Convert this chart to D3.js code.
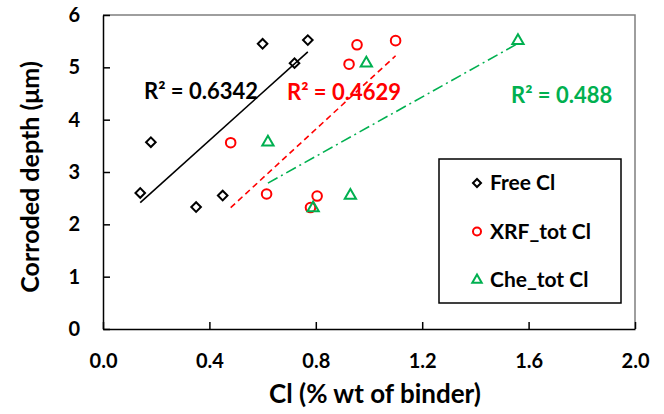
<!DOCTYPE html>
<meta charset="utf-8">
<style>
body{
  margin: 0;
  background: #fff;
}
svg{
  font-family: Lato, "Open Sans", sans-serif;
  font-weight: bold;
}
.axis path, .axis line{
  stroke: #000;
  stroke-width: 1.5px;
}
.axis text{
  font-size: 20px;
  font-family: Lato, sans-serif;
  font-weight: bold;
  fill: #000;
}
</style>
<svg width="664" height="414"></svg>
<script src="https://d3js.org/d3.v7.min.js"></script>
<script>
// values
var freeX = [0.14, 0.18, 0.35, 0.45, 0.60, 0.72, 0.77];
var freeY = [2.60, 3.57, 2.33, 2.55, 5.45, 5.08, 5.52];
var xrfX = [0.48, 0.615, 0.78, 0.805, 0.925, 0.955, 1.10];
var xrfY = [3.56, 2.58, 2.32, 2.54, 5.06, 5.43, 5.51];
var cheX = [0.62, 0.79, 0.93, 0.99, 1.56];
var cheY = [3.57, 2.31, 2.55, 5.08, 5.51];
var xTicks = [0, 0.4, 0.8, 1.2, 1.6, 2.0];
var yTicks = [0, 1, 2, 3, 4, 5, 6];
var seriesNames = ["Free Cl", "XRF_tot Cl", "Che_tot Cl"];
var r2Labels = ["R\u00b2 = 0.6342", "R\u00b2 = 0.4629", "R\u00b2 = 0.488"];

var svg = d3.select("svg"),
margin = {top: 15, right: 29, bottom: 85, left: 103},
width = +svg.attr("width") - margin.left - margin.right,
height = +svg.attr("height") - margin.top - margin.bottom;

var x = d3.scaleLinear().domain([0, 2]).range([0, width]),
y = d3.scaleLinear().domain([0, 6]).range([height, 0]);

var g = svg.append("g")
.attr("transform", "translate(" + margin.left + "," + margin.top + ")");

// frame top/right
g.append("path")
.attr("d", "M0,0H" + width + "V" + height)
.attr("fill", "none")
.attr("stroke", "#7f7f7f")
.attr("stroke-width", 1.5);

g.append("g")
.attr("class", "axis")
.attr("transform", "translate(0," + height + ")")
.call(d3.axisBottom(x).tickValues(xTicks).tickSize(-7).tickSizeOuter(0).tickPadding(25).tickFormat(d3.format(".1f")));

g.append("g")
.attr("class", "axis")
.call(d3.axisLeft(y).tickValues(yTicks).tickSize(-7).tickSizeOuter(0).tickPadding(23).tickFormat(d3.format("d")));

g.selectAll(".axis .domain").attr("stroke-width", 2);

// axis titles
g.append("text")
.attr("x", width / 2 + 6)
.attr("y", height + 74)
.attr("text-anchor", "middle")
.style("font-size", "26px")
.text("Cl (% wt of binder)");

g.append("text")
.attr("transform", "translate(" + (30 - margin.left) + "," + (height / 2 + 5) + ") rotate(-90)")
.attr("dy", "0.35em")
.attr("text-anchor", "middle")
.style("font-size", "25px")
.text("Corroded depth (\u03bcm)");

function fit(xs, ys){
  var mx = d3.mean(xs), my = d3.mean(ys), sxy = 0, sxx = 0;
  xs.forEach(function(v, i){ sxy += (v - mx) * (ys[i] - my); sxx += (v - mx) * (v - mx); });
  var b = sxy / sxx, a = my - b * mx;
  var x0 = d3.min(xs), x1 = d3.max(xs);
  return [[x0, a + b * x0], [x1, a + b * x1]];
}

var series = [
  {name: seriesNames[0], xs: freeX, ys: freeY, color: "#000000", sym: d3.symbolSquare, rot: 45, size: 46, dash: null, r2: r2Labels[0], lx: 144, ly: 91},
  {name: seriesNames[1], xs: xrfX, ys: xrfY, color: "#ff0000", sym: d3.symbolCircle, rot: 0, size: 72, dash: "6,4", r2: r2Labels[1], lx: 287, ly: 92},
  {name: seriesNames[2], xs: cheX, ys: cheY, color: "#00b050", sym: d3.symbolTriangle, rot: 0, size: 55, dash: "11,4,2,4", r2: r2Labels[2], lx: 511, ly: 95}
];

var line = d3.line().x(function(d){ return x(d[0]); }).y(function(d){ return y(d[1]); });

series.forEach(function(s){
  g.append("path")
  .attr("d", line(fit(s.xs, s.ys)))
  .attr("fill", "none")
  .attr("stroke", s.color)
  .attr("stroke-width", 1.6)
  .attr("stroke-dasharray", s.dash);
});

series.forEach(function(s){
  g.selectAll(null)
  .data(s.xs)
  .enter().append("path")
  .attr("transform", function(d, i){ return "translate(" + x(d) + "," + y(s.ys[i]) + ") rotate(" + s.rot + ")"; })
  .attr("d", d3.symbol().type(s.sym).size(s.size))
  .attr("fill", "none")
  .attr("stroke", s.color)
  .attr("stroke-width", 2);
});

series.forEach(function(s){
  svg.append("text")
  .attr("x", s.lx)
  .attr("y", s.ly)
  .attr("dy", "0.35em")
  .attr("fill", s.color)
  .style("font-size", "22px")
  .text(s.r2);
});

// legend
var leg = svg.append("g").attr("transform", "translate(439,159)");
leg.append("rect")
.attr("width", 182)
.attr("height", 144)
.attr("fill", "#fff")
.attr("stroke", "#000")
.attr("stroke-width", 1.5);

series.forEach(function(s, i){
  var row = leg.append("g").attr("transform", "translate(0," + (24 + i * 48.5) + ")");
  row.append("path")
  .attr("transform", "translate(38,0) rotate(" + s.rot + ")")
  .attr("d", d3.symbol().type(s.sym).size(s.size * 0.7))
  .attr("fill", "none")
  .attr("stroke", s.color)
  .attr("stroke-width", 2);
  row.append("text")
  .attr("x", 51)
  .attr("dy", "0.35em")
  .style("font-size", "21px")
  .text(s.name);
});
</script>
</html>
